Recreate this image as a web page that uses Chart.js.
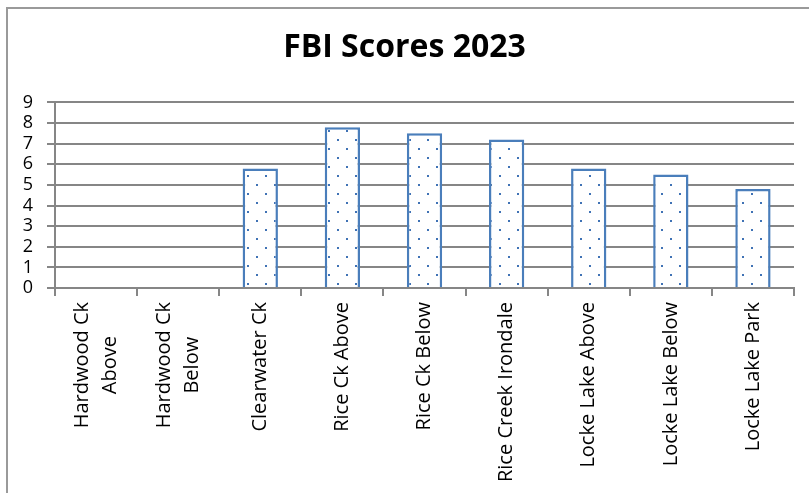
<!DOCTYPE html>
<html lang="en">
<head>
  <meta charset="UTF-8">
  <title>FBI Scores 2023</title>
  <script src="https://cdn.jsdelivr.net/npm/chart.js"></script>
  <style>
    body { margin: 0; background: #fff; overflow: hidden; }
    #frame {
      position: absolute; left: 6px; top: 7px; width: 840px; height: 520px;
      border-left: 2px solid #9a9a9a; border-top: 2px solid #9a9a9a;
    }
    #wrap { position: absolute; left: 0; top: 0; width: 809px; height: 493px; }
  </style>
</head>
<body>
  <div id="frame"></div>
  <div id="wrap"><canvas id="fbiChart"></canvas></div>

  <script>
    // sites (two-line names are split into arrays)
    const sites = [
      ['Hardwood Ck', 'Above'],
      ['Hardwood Ck', 'Below'],
      'Clearwater Ck',
      'Rice Ck Above',
      'Rice Ck Below',
      'Rice Creek Irondale',
      'Locke Lake Above',
      'Locke Lake Below',
      'Locke Lake Park'
    ];
    // FBI score per site, no data for the Hardwood sites
    const fbiScores = [null, null, 5.8, 7.8, 7.5, 7.2, 5.8, 5.5, 4.8];
    const yTicks = [0, 1, 2, 3, 4, 5, 6, 7, 8, 9];

    const blue = '#4a7ebb';
    const gridGray = '#868686';

    // dotted fill like the excel pattern
    function dotPattern() {
      const c = document.createElement('canvas');
      c.width = 18; c.height = 18;
      const g = c.getContext('2d');
      g.fillStyle = '#fff';
      g.fillRect(0, 0, 18, 18);
      g.fillStyle = '#3f72b5';
      g.fillRect(4, 4, 2, 2);
      g.fillRect(13, 13, 2, 2);
      return g.createPattern(c, 'repeat');
    }

    // vertical category labels, excel style: each line centred, block ends under the tick
    const xLabels = {
      id: 'xLabels',
      afterDraw(chart) {
        const sc = chart.scales.x;
        const c = chart.ctx;
        const gap = 28;
        c.save();
        c.font = '20px "Open Sans"';
        c.fillStyle = '#000';
        c.textAlign = 'center';
        c.textBaseline = 'middle';
        sites.forEach((label, i) => {
          const lines = [].concat(label);
          const widest = Math.max(...lines.map(s => c.measureText(s).width));
          c.save();
          c.translate(sc.getPixelForTick(i), sc.top + 14);
          c.rotate(-Math.PI / 2);
          lines.forEach((s, k) => {
            c.fillText(s, -widest / 2, (k - (lines.length - 1) / 2) * gap);
          });
          c.restore();
        });
        c.restore();
      }
    };

    const ctx = document.getElementById('fbiChart').getContext('2d');
    new Chart(ctx, {
      type: 'bar',
      data: {
        labels: sites,
        datasets: [{
          data: fbiScores,
          backgroundColor: dotPattern(),
          borderColor: blue,
          borderWidth: 2.5,
          barPercentage: 0.43,
          categoryPercentage: 1
        }]
      },
      plugins: [xLabels],
      options: {
        responsive: true,
        maintainAspectRatio: false,
        animation: false,
        layout: { padding: { left: 15, right: 15, top: 0, bottom: 0 } },
        plugins: {
          legend: { display: false },
          tooltip: { enabled: false },
          title: {
            display: true,
            text: 'FBI Scores 2023',
            color: '#000',
            font: { family: 'Open Sans', size: 32, weight: 'bold' },
            padding: { top: 29, bottom: 35 }
          }
        },
        scales: {
          x: {
            grid: {
              drawOnChartArea: false,
              drawTicks: true,
              tickLength: 8,
              color: gridGray,
              lineWidth: 2
            },
            border: { color: gridGray, width: 2 },
            ticks: { display: false },
            afterFit: function (scale) { scale.height = 205; }
          },
          y: {
            min: 0,
            max: 9,
            afterBuildTicks: function (scale) {
              scale.ticks = yTicks.map(v => ({ value: v }));
            },
            grid: { color: gridGray, lineWidth: 2, tickLength: 8 },
            border: { color: gridGray, width: 2 },
            ticks: {
              color: '#000',
              font: { family: 'Open Sans', size: 18 },
              autoSkip: false,
              padding: 14
            },
            afterFit: function (scale) { scale.width = 40; }
          }
        }
      }
    });
  </script>
</body>
</html>
